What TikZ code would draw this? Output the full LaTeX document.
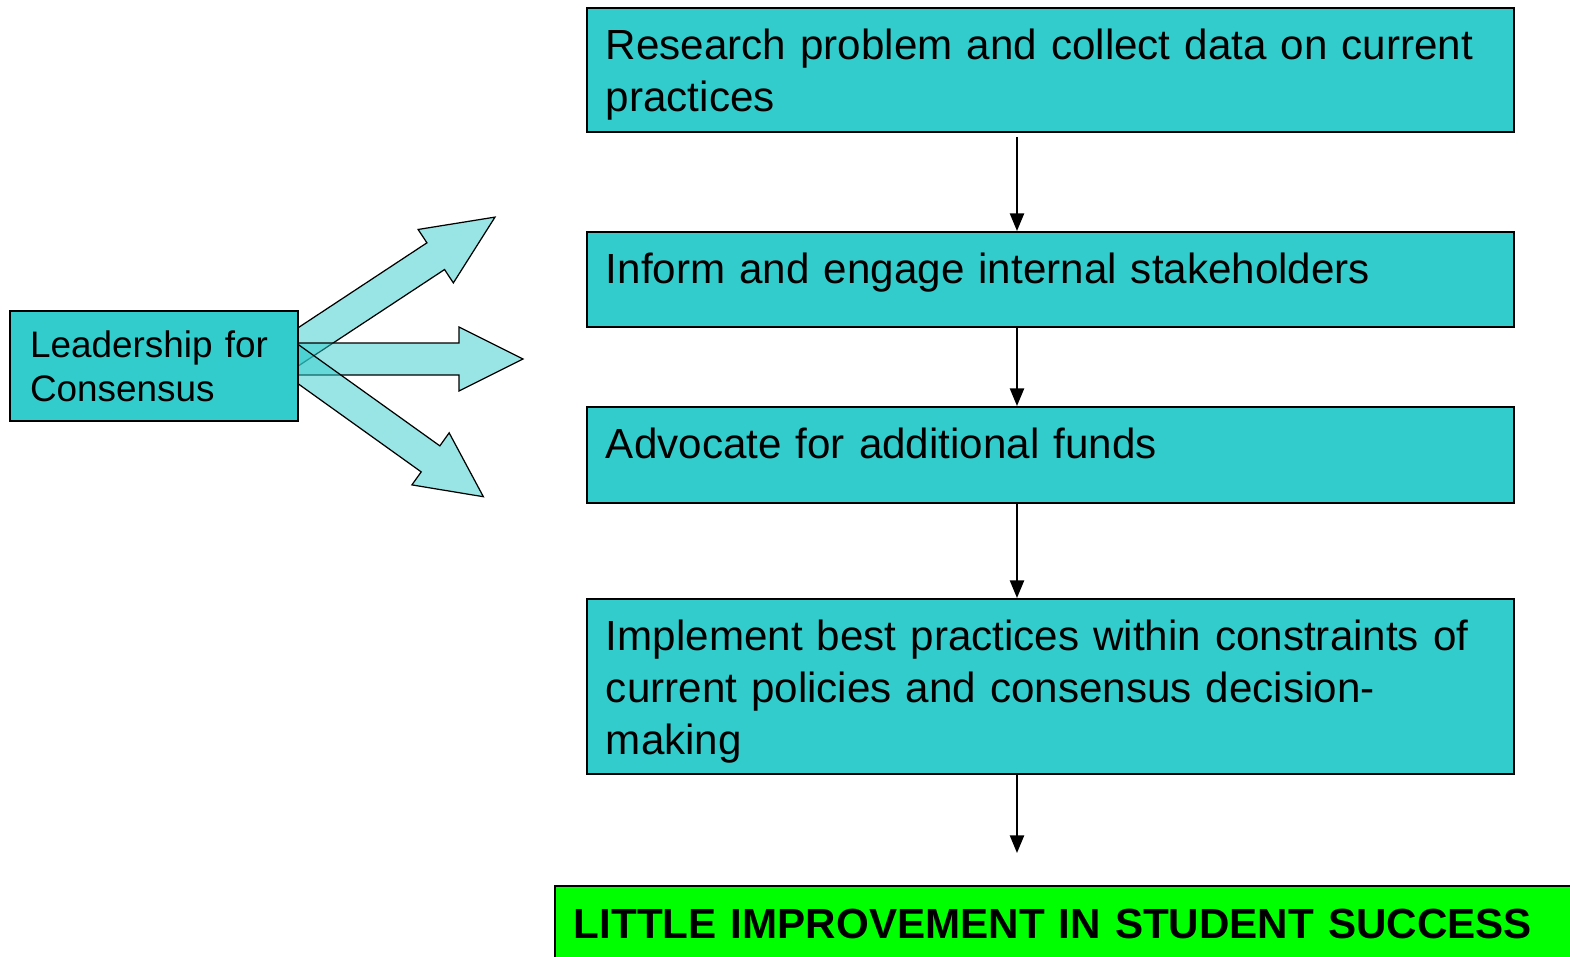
\documentclass[tikz,border=0pt]{standalone}
\usepackage{fontspec}
\setmainfont{Liberation Sans}
\usetikzlibrary{arrows.meta}

\definecolor{boxteal}{HTML}{33CCCC}
\definecolor{boxlime}{HTML}{00FF00}

\tikzset{
  stage/.style={draw=black, line width=1.1pt, fill=boxteal, anchor=north west,
    text width=17.78cm, align=left, inner xsep=0.38cm, inner ysep=0pt,
    text height=1.04cm, font=\fontsize{24}{29.5}\selectfont},
  fatarrow/.style={draw=black, line width=0.7pt, fill=boxteal, fill opacity=0.5},
  flow/.style={line width=1.1pt, -{Triangle[length=10pt,width=8pt]}},
}

\begin{document}
\begin{tikzpicture}[x=0.02cm,y=-0.02cm]
\useasboundingbox (0,0) rectangle (1570,957);
\clip (0,0) rectangle (1570,957);

% the fan of wide arrows behind the leadership box
\draw[fatarrow, shift={(298,347)}, rotate=33.4]
  (-20,-16) -- (165,-16) -- (165,-32) -- (236,0) -- (165,32) -- (165,16) -- (-20,16) -- cycle;
\draw[fatarrow, shift={(298,359)}]
  (-20,-16) -- (161,-16) -- (161,-32) -- (225,0) -- (161,32) -- (161,16) -- (-20,16) -- cycle;
\draw[fatarrow, shift={(298,364)}, rotate=-35.6]
  (-20,-16) -- (163,-16) -- (163,-32) -- (228,0) -- (163,32) -- (163,16) -- (-20,16) -- cycle;

\node[draw=black, line width=1.1pt, fill=boxteal, text width=4.96cm, align=left,
  inner xsep=0.4cm, minimum height=2.2cm, font=\fontsize{21}{24.9}\selectfont]
  (lead) at (154,366) {Leadership for\\Consensus};

% the chain of steps
\node[stage, text depth=1.44cm] (research) at (586,7)
  {Research problem and collect data on current\\practices};
\node[stage, text depth=0.86cm] (inform) at (586,231)
  {Inform and engage internal stakeholders};
\node[stage, text depth=0.88cm] (advocate) at (586,406)
  {Advocate for additional funds};
\node[stage, text depth=2.46cm] (implement) at (586,598)
  {Implement best practices within constraints of\\current policies and consensus decision-\\making};

\node[draw=black, line width=1.1pt, fill=boxlime, anchor=north west,
  text width=19.84cm, align=left, inner xsep=0.38cm, minimum height=1.52cm,
  font=\fontsize{24}{29}\selectfont\bfseries]
  (result) at (554,885) {LITTLE IMPROVEMENT IN STUDENT SUCCESS};

\coordinate (spine) at (1017,0);
\coordinate (stop) at (1017,853);
\draw[flow, shorten <=2.3pt] (research.south -| spine) -- (inform.north -| spine);
\draw[flow] (inform.south -| spine) -- (advocate.north -| spine);
\draw[flow] (advocate.south -| spine) -- (implement.north -| spine);
\draw[flow] (implement.south -| spine) -- (stop);
\end{tikzpicture}
\end{document}
